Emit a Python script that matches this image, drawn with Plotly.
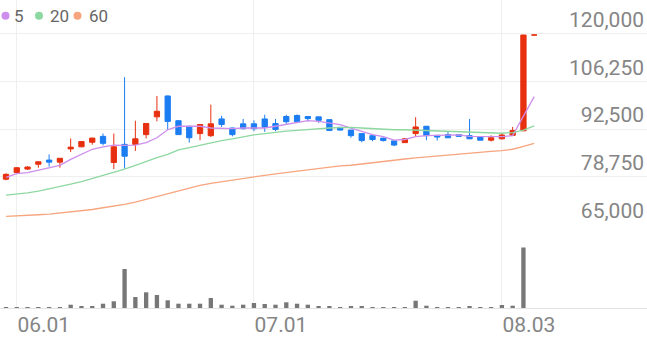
import plotly.graph_objects as go

# ---------------- data ----------------
dates = ["05.31",
         "06.01", "06.02", "06.03", "06.04", "06.07", "06.08", "06.09", "06.10", "06.11",
         "06.14", "06.15", "06.16", "06.17", "06.18", "06.21", "06.22", "06.23", "06.24",
         "06.25", "06.28", "06.29", "06.30",
         "07.01", "07.02", "07.05", "07.06", "07.07", "07.08", "07.09", "07.12", "07.13",
         "07.14", "07.15", "07.16", "07.19", "07.20", "07.21", "07.22", "07.23", "07.26",
         "07.27", "07.28", "07.29", "07.30",
         "08.02", "08.03", "08.04", "08.05", "08.06"]

open_ = [78100, 80000, 81000, 82400, 83600, 83000, 86800, 87400, 88700, 90400,
         82900, 88100, 88100, 90900, 96000, 102000, 94900, 93300, 91200, 90600,
         95400, 92800, 94000, 94000, 95400, 94100, 96100, 96400, 96100, 96000,
         95200, 93000, 92200, 91200, 90600, 89900, 89100, 88600, 91200, 93300,
         90700, 90900, 90900, 90600, 90200, 89300, 89700, 90700, 92000, 119500]
high = [79800, 81600, 81800, 83200, 85200, 84200, 89800, 89000, 90000, 91200,
        91200, 107400, 94900, 94200, 102000, 102100, 95000, 93400, 93900, 99500,
        96300, 92900, 95400, 95000, 96600, 95400, 96600, 96700, 96200, 96000,
        95300, 93000, 92200, 91300, 90700, 90000, 89200, 89800, 95900, 93400,
        90800, 91800, 91000, 95400, 90200, 90700, 91400, 93100, 119500, 119500]
low = [77800, 79900, 80800, 81400, 81700, 81400, 85900, 87300, 88000, 87800,
       81000, 81200, 86200, 89800, 94700, 92200, 90800, 88600, 89300, 90200,
       93100, 90400, 92400, 91900, 91700, 91900, 94000, 94300, 94700, 94300,
       91900, 92100, 90000, 88700, 89000, 88900, 87600, 88500, 90400, 89300,
       89200, 89900, 90300, 89600, 89200, 88900, 89500, 90600, 91900, 119500]
close = [79500, 81400, 81600, 83100, 83000, 84100, 87300, 88900, 89900, 88400,
         87400, 84700, 89700, 94100, 97600, 94700, 90900, 90000, 93800, 94000,
         93800, 90900, 92600, 92600, 93000, 92400, 94600, 94600, 95500, 95000,
         92100, 92200, 90600, 89200, 89500, 89200, 87900, 89700, 93100, 90600,
         90200, 90000, 90400, 89700, 89300, 90000, 90800, 92100, 119500, 119500]

ma5 = [78600, 79700, 80000, 80700, 81400, 82100, 83800, 85200, 86700, 87400,
       87900, 87800, 87900, 88600, 90000, 92300, 93300, 93300, 93300, 92800,
       92600, 92600, 92800, 92800, 92800, 93300, 93800, 94400, 94900, 94700,
       94300, 93800, 92800, 91900, 90900, 90300, 89300, 89500, 90300, 90600,
       90600, 90800, 90800, 90400, 90300, 90300, 90300, 90600, 96300, 101800]
ma20 = [73500, 73800, 74200, 74700, 75300, 75900, 76700, 77400, 78300, 79100,
        80000, 81000, 82100, 83300, 84300, 85200, 86500, 87200, 87900, 88500,
        89200, 89700, 90300, 90800, 91200, 91600, 91900, 92100, 92400, 92600,
        92800, 92900, 93000, 92800, 92600, 92400, 92300, 92300, 92200, 92100,
        92000, 91900, 91800, 91700, 91600, 91400, 91300, 91500, 92200, 93400]
ma60 = [67400, 67500, 67700, 67900, 68100, 68400, 68800, 69100, 69400, 69900,
        70300, 70900, 71500, 72300, 73200, 74100, 74900, 75600, 76300, 76900,
        77400, 77900, 78400, 78800, 79200, 79600, 80000, 80400, 80800, 81200,
        81500, 81900, 82100, 82500, 82900, 83200, 83600, 83900, 84200, 84500,
        84800, 85100, 85400, 85600, 85800, 86100, 86300, 86700, 87500, 88400]

# volume, thousand shares
volume = [100, 100, 100, 100, 100, 100, 330, 170, 170, 430,
          670, 3900, 1100, 1570, 1300, 770, 430, 430, 430, 1000,
          330, 230, 330, 500, 400, 330, 570, 430, 330, 200,
          200, 70, 170, 170, 70, 70, 70, 100, 730, 230,
          70, 70, 70, 170, 70, 70, 300, 230, 6050, 0]

x_tick_labels = ["06.01", "07.01", "08.03"]
y_tick_values = [65000, 78750, 92500, 106250, 120000]
ma_names = ["5", "20", "60"]

# ---------------- styles ----------------
RED = "#e7300f"
BLUE = "#1c7df2"
MA_COLORS = ["#cd8eec", "#8dd8a0", "#f7a57e"]
GRID = "#efefef"
TICK_GRAY = "#858585"
FONT = "Roboto"

W, H = 647, 337
MB = 29
PH = H - MB  # plot height in px
PRICE_BOTTOM_PX = 225

x = list(range(len(dates)))
tick_idx = [dates.index(d) for d in x_tick_labels]
y_tick_text = [f"{v:,}" for v in y_tick_values]

fig = go.Figure()

for ma, col, nm in zip([ma5, ma20, ma60], MA_COLORS, ma_names):
    fig.add_trace(go.Scatter(x=x, y=ma, mode="lines", name=nm,
                             line=dict(color=col, width=1.3),
                             xaxis="x", yaxis="y", showlegend=False,
                             hoverinfo="skip"))

fig.add_trace(go.Candlestick(
    x=x, open=open_, high=high, low=low, close=close,
    increasing=dict(line=dict(color=RED, width=1), fillcolor=RED),
    decreasing=dict(line=dict(color=BLUE, width=1), fillcolor=BLUE),
    whiskerwidth=0, xaxis="x", yaxis="y", showlegend=False))

fig.add_trace(go.Bar(x=x, y=volume, marker=dict(color="#777777", line=dict(width=0)),
                     width=0.4, xaxis="x2", yaxis="y2", showlegend=False))

x_range = [-6 / 10.78, (W - 6) / 10.78]
vol_dom = (PH - PRICE_BOTTOM_PX) / PH
px_per_unit = (PRICE_BOTTOM_PX - 33.3) / (120000 - 65000)
y_top = 65000 + PRICE_BOTTOM_PX / px_per_unit

fig.update_layout(
    width=W, height=H,
    margin=dict(l=0, r=0, t=0, b=MB, autoexpand=False),
    paper_bgcolor="white", plot_bgcolor="white",
    showlegend=False,
    xaxis=dict(domain=[0, 1], range=x_range, anchor="y", automargin=False,
               tickmode="array", tickvals=tick_idx, showticklabels=False,
               showgrid=True, gridcolor=GRID, gridwidth=1, zeroline=False,
               ticks="", rangeslider=dict(visible=False)),
    xaxis2=dict(domain=[0, 1], range=x_range, anchor="y2", matches="x",
                automargin=False,
                tickmode="array", tickvals=tick_idx, ticktext=x_tick_labels,
                showgrid=True, gridcolor=GRID, gridwidth=1, zeroline=False,
                showline=True, linecolor="#e3e3e3", linewidth=1,
                ticks="", ticklabelshift=27, ticklabelstandoff=-2,
                tickfont=dict(family=FONT, size=21, color=TICK_GRAY)),
    yaxis=dict(domain=[vol_dom, 1], range=[64950, y_top], anchor="x",
               automargin=False,
               side="right", tickmode="array", tickvals=y_tick_values,
               ticktext=y_tick_text, ticklabelposition="inside",
               ticklabelshift=-14, ticklabeloverflow="allow",
               showgrid=True, gridcolor=GRID, gridwidth=1, zeroline=False,
               ticks="", tickfont=dict(family=FONT, size=21, color=TICK_GRAY)),
    yaxis2=dict(domain=[0, vol_dom], range=[0, 8300], anchor="x2",
                automargin=False,
                showgrid=False, showticklabels=False, zeroline=False, ticks=""),
)

# legend (dots + labels) at top left
dot_cx = [5.5, 39.0, 77.5]
text_x = [12.0, 48.0, 87.0]
cy = 15.7
for cx, tx, col, nm in zip(dot_cx, text_x, MA_COLORS, ma_names):
    r = 4
    fig.add_shape(type="circle", xref="paper", yref="paper",
                  x0=(cx - r) / W, x1=(cx + r) / W,
                  y0=1 - (cy + r) / PH, y1=1 - (cy - r) / PH,
                  fillcolor=col, line=dict(width=0))
    fig.add_annotation(x=tx / W, y=1 - cy / PH, xref="paper", yref="paper",
                       text=nm, showarrow=False, xanchor="left", yanchor="middle",
                       font=dict(family=FONT, size=17, color="#666666"))

fig.write_html("out.html")
